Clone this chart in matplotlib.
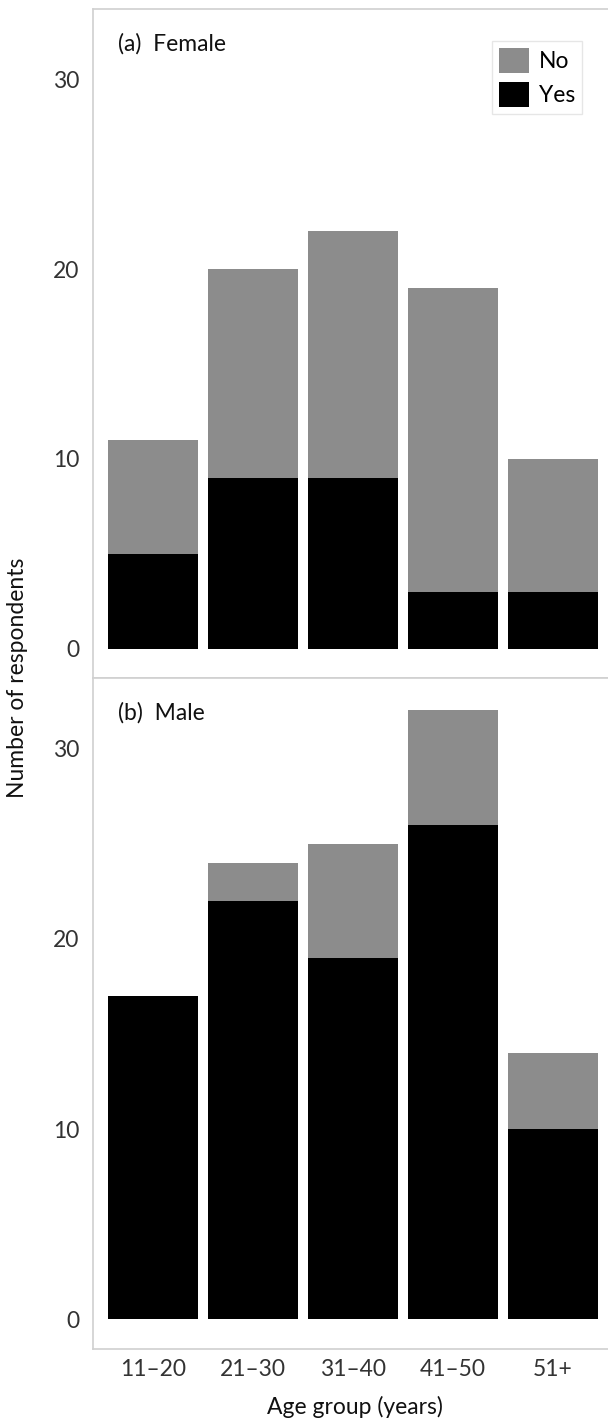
import matplotlib
matplotlib.use("Agg")
import matplotlib.pyplot as plt
from matplotlib.patches import Patch
import numpy as np

plt.rcParams['font.family'] = ['Lato', 'DejaVu Sans']

categories = ["11\u201320", "21\u201330", "31\u201340", "41\u201350", "51+"]
female_yes = [5, 9, 9, 3, 3]
female_no = [6, 11, 13, 16, 7]
male_yes = [17, 22, 19, 26, 10]
male_no = [0, 2, 6, 6, 4]
yticks = [0, 10, 20, 30]

GRAY = "#8c8c8c"
BLACK = "#000000"
SPINE = "#d0d0d0"
FS = 16.5

W, H = 608, 1421
fig = plt.figure(figsize=(W / 100, H / 100), dpi=100)

def axes_rect(x0, y0, x1, y1):
    return [x0 / W, 1 - y1 / H, (x1 - x0) / W, (y1 - y0) / H]

AX_L = 93
ax1 = fig.add_axes(axes_rect(AX_L, 9, 608, 678))
ax2 = fig.add_axes(axes_rect(AX_L, 678, 608, 1349))
AW, AH = 608 - AX_L, 669

x = np.arange(len(categories))
panels = [(ax1, female_yes, female_no, "(a)  Female"),
          (ax2, male_yes, male_no, "(b)  Male")]

for ax, yes, no, title in panels:
    ax.bar(x, yes, width=0.9, color=BLACK, linewidth=0)
    ax.bar(x, no, width=0.9, bottom=yes, color=GRAY, linewidth=0)
    ax.set_xlim(-0.6, 4.55)
    ax.set_ylim(-1.55, 33.7)
    ax.set_yticks(yticks)
    ax.set_yticklabels([str(t) for t in yticks])
    ax.tick_params(axis='y', length=0, pad=10, labelsize=FS, labelcolor="#333333")
    for side in ['top', 'left', 'bottom']:
        ax.spines[side].set_color(SPINE)
        ax.spines[side].set_linewidth(1.2)
    ax.spines['right'].set_visible(False)
    ax.text((118 - AX_L) / AW, 1 - 35 / AH, title, transform=ax.transAxes,
            ha='left', va='center', fontsize=FS, color="#111111")

ax1.set_xticks([])
ax2.set_xticks(x)
ax2.set_xticklabels(categories)
ax2.tick_params(axis='x', length=0, pad=7, labelsize=FS, labelcolor="#333333")

handles = [Patch(facecolor=GRAY, edgecolor='none', label='No'),
           Patch(facecolor=BLACK, edgecolor='none', label='Yes')]
leg = ax1.legend(handles=handles, loc='upper right',
                 bbox_to_anchor=(1 - 26 / AW, 1 - 32 / AH),
                 fontsize=FS, frameon=True, fancybox=False,
                 handlelength=1.3, handleheight=1.3, handletextpad=0.45,
                 labelspacing=0.4, borderpad=0.3, borderaxespad=0)
leg.get_frame().set_edgecolor("#e0e0e0")
leg.get_frame().set_linewidth(1.0)

fig.text(18 / W, 1 - 678 / H, "Number of respondents", rotation=90,
         ha='center', va='center', fontsize=FS, color="#111111")
fig.text(355 / W, 1 - 1407 / H, "Age group (years)", ha='center', va='center',
         fontsize=FS, color="#111111")

fig.savefig("out.png", dpi=100)
